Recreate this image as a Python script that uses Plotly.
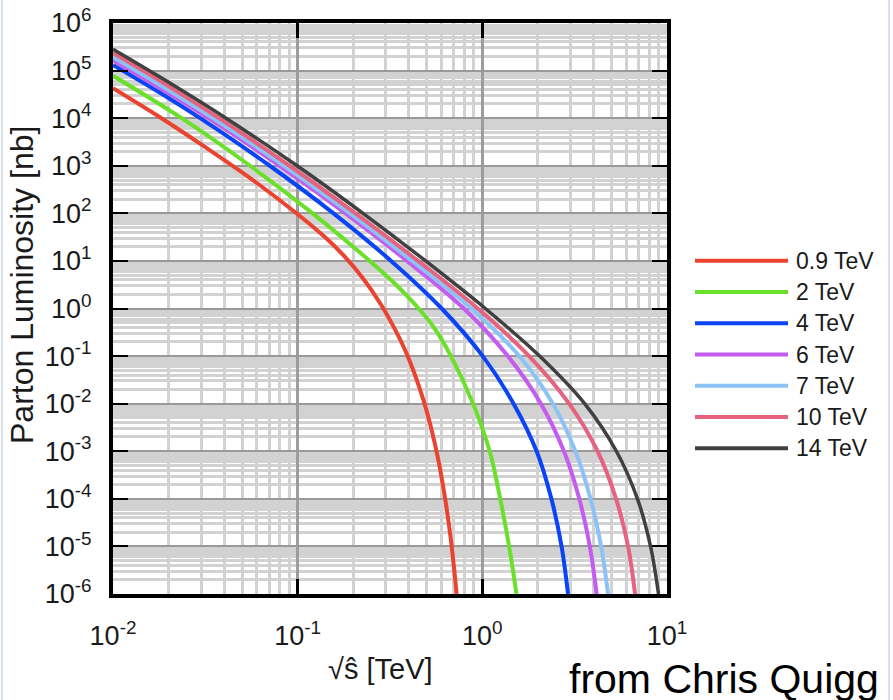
import plotly.graph_objects as go

# ---------------- data ----------------
series_names = ["0.9 TeV", "2 TeV", "4 TeV", "6 TeV", "7 TeV", "10 TeV", "14 TeV"]
series_colors = ["#ea4330", "#6be02b", "#0b44f5", "#c45cf0", "#8cc3f7", "#e5637e", "#404040"]
series_widths = [4, 4, 4, 4, 4, 4, 3.5]

# sqrt(s-hat) [TeV] and parton luminosity [nb]
x_09 = [0.01, 0.01778, 0.03162, 0.05623, 0.1, 0.1413, 0.1778, 0.2239, 0.2818, 0.3388,
        0.3802, 0.4266, 0.4786, 0.5248, 0.5754, 0.631, 0.6761, 0.7261]
y_09 = [4.266e4, 1.072e4, 2455, 524.8, 95.5, 30.9, 12.88, 4.467, 1.23, 0.3467,
        0.138, 0.0457, 0.0123, 3.39e-3, 7.08e-4, 9.33e-5, 1.35e-5, 1e-6]

x_2 = [0.01, 0.02355, 0.05521, 0.1205, 0.2455, 0.3311, 0.4519, 0.5495, 0.6761,
       0.8913, 1.096, 1.250, 1.396, 1.531]
y_2 = [7.762e4, 1e4, 1e3, 1e2, 1e1, 3.508, 1e0, 0.389, 1e-1,
       1e-2, 1e-3, 1e-4, 1e-5, 1e-6]

x_4 = [0.01, 0.01778, 0.02965, 0.07063, 0.1563, 0.3206, 0.6026, 1.005, 1.476, 1.968, 2.366, 2.686, 2.911]
y_4 = [1.318e5, 3.508e4, 1e4, 1e3, 1e2, 1e1, 1e0, 1e-1, 1e-2, 1e-3, 1e-4, 1e-5, 1e-6]

x_6 = [0.01, 0.01778, 0.03289, 0.0798, 0.1816, 0.3908, 0.7943, 1.374, 2.075, 2.767, 3.350, 3.819, 4.159]
y_6 = [1.66e5, 4.416e4, 1e4, 1e3, 1e2, 1e1, 1e0, 1e-1, 1e-2, 1e-3, 1e-4, 1e-5, 1e-6]

x_7 = [0.01, 0.01778, 0.03475, 0.08433, 0.1919, 0.4159, 0.871, 1.585, 2.410, 3.192, 3.855, 4.395, 4.797]
y_7 = [1.905e5, 5.07e4, 1e4, 1e3, 1e2, 1e1, 1e0, 1e-1, 1e-2, 1e-3, 1e-4, 1e-5, 1e-6]

x_10 = [0.01, 0.01778, 0.0375, 0.09036, 0.2056, 0.4487, 0.9441, 1.791, 2.951, 4.207, 5.297, 6.152, 6.714]
y_10 = [2.344e5, 6.237e4, 1e4, 1e3, 1e2, 1e1, 1e0, 1e-1, 1e-2, 1e-3, 1e-4, 1e-5, 1e-6]

x_14 = [0.01, 0.01778, 0.04093, 0.09931, 0.2259, 0.4932, 1.038, 2.042, 3.581, 5.321, 6.918, 8.147, 8.995]
y_14 = [2.82e5, 7.5e4, 1e4, 1e3, 1e2, 1e1, 1e0, 1e-1, 1e-2, 1e-3, 1e-4, 1e-5, 1e-6]

series_x = [x_09, x_2, x_4, x_6, x_7, x_10, x_14]
series_y = [y_09, y_2, y_4, y_6, y_7, y_10, y_14]

# tick labels
x_tick_vals = [0.01, 0.1, 1, 10]
x_tick_exps = ["-2", "-1", "0", "1"]
y_tick_vals = [1e-6, 1e-5, 1e-4, 1e-3, 1e-2, 1e-1, 1e0, 1e1, 1e2, 1e3, 1e4, 1e5, 1e6]
y_tick_exps = ["-6", "-5", "-4", "-3", "-2", "-1", "0", "1", "2", "3", "4", "5", "6"]

x_title = "√ŝ [TeV]"
y_title = "Parton Luminosity [nb]"
credit = "from Chris Quigg"

# ---------------- figure ----------------
FONT = "Liberation Sans, Arial, sans-serif"
fig = go.Figure()

for xs, ys, name, col, w in zip(series_x, series_y, series_names, series_colors, series_widths):
    fig.add_trace(go.Scatter(
        x=xs, y=ys, mode="lines", name=name, showlegend=False,
        line=dict(color=col, width=w, shape="spline", smoothing=1.0),
    ))

x_minor = [k * 10.0 ** d for d in range(-2, 1) for k in range(2, 10)]
y_minor = [k * 10.0 ** d for d in range(-6, 6) for k in range(2, 10)]

common = dict(
    type="log", showline=True, linewidth=4, linecolor="black", mirror="ticks",
    ticks="inside", tickcolor="black", showgrid=True, zeroline=False,
    tickmode="array", automargin=False, ticklabeloverflow="allow",
    tickfont=dict(family=FONT, size=27, color="#1a1a1a"),
)

fig.update_xaxes(
    **common, range=[-2, 1],
    tickvals=x_tick_vals, ticktext=[f"10<sup>{e}</sup>" for e in x_tick_exps],
    ticklen=15, tickwidth=3, gridcolor="#9d9d9d", gridwidth=3,
    ticklabelstandoff=15,
    minor=dict(tickmode="array", tickvals=x_minor, showgrid=True,
               gridcolor="#d2d2d2", gridwidth=3, ticks=""),
)
fig.update_yaxes(
    **common, range=[-6, 6],
    tickvals=y_tick_vals, ticktext=[f"10<sup>{e}</sup>" for e in y_tick_exps],
    ticklen=15, tickwidth=2, gridcolor="#999999", gridwidth=2,
    ticklabelstandoff=12,
    minor=dict(tickmode="array", tickvals=y_minor, showgrid=True,
               gridcolor="#d2d2d2", gridwidth=3, ticks=""),
)

# plot area in page pixels (page body margin is removed below)
L, PW, T, PH = 113, 554, 23, 571
def px_x(p):
    return (p - L) / PW
def px_y(p):
    return (T + PH - p) / PH

shapes = []
annotations = []
for i, (name, col, w) in enumerate(zip(series_names, series_colors, series_widths)):
    yy = px_y(260.7 + 31.27 * i)
    shapes.append(dict(type="line", xref="paper", yref="paper",
                       x0=px_x(695), x1=px_x(788), y0=yy, y1=yy,
                       line=dict(color=col, width=4)))
    annotations.append(dict(xref="paper", yref="paper", x=px_x(794), y=yy,
                            text=name, showarrow=False, xanchor="left", yanchor="middle",
                            font=dict(family=FONT, size=23, color="#1a1a1a")))

# faint window frame lines at the image edges
for fx in (2, 889):
    shapes.append(dict(type="line", xref="paper", yref="paper",
                       x0=px_x(fx), x1=px_x(fx), y0=-0.3, y1=1.2,
                       line=dict(color="#d8e2ec", width=2)))

annotations.append(dict(xref="paper", yref="paper", x=px_x(380), y=px_y(669),
                        text=x_title, showarrow=False, xanchor="center", yanchor="middle",
                        font=dict(family=FONT, size=29, color="#1a1a1a")))
annotations.append(dict(xref="paper", yref="paper", x=px_x(22), y=px_y(285),
                        text=y_title, showarrow=False, textangle=-90,
                        xanchor="center", yanchor="middle",
                        font=dict(family=FONT, size=32, color="#1a1a1a")))
annotations.append(dict(xref="paper", yref="paper", x=px_x(567), y=px_y(679),
                        text=credit, showarrow=False, xanchor="left", yanchor="middle",
                        font=dict(family=FONT, size=41, color="black")))

fig.update_layout(
    width=893, height=700,
    margin=dict(l=L, r=893 - L - PW, t=T, b=700 - T - PH, pad=0, autoexpand=False),
    plot_bgcolor="white", paper_bgcolor="white",
    shapes=shapes, annotations=annotations,
    showlegend=False,
)

fig.write_html("out.html",
               config={"displayModeBar": False},
               post_script="document.body.style.margin='0px';document.body.style.overflow='hidden';")
